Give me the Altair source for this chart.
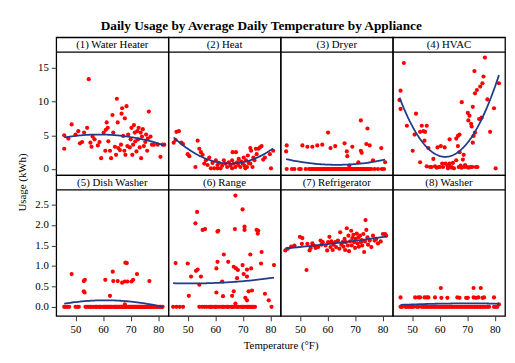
import altair as alt
import pandas as pd

TITLE = "Daily Usage by Average Daily Temperature by Appliance"
LABELS = ["(1) Water Heater", "(2) Heat", "(3) Dryer", "(4) HVAC",
          "(5) Dish Washer", "(6) Range", "(7) Refrigerator", "(8) Washer"]

water_heater = [(45.9,5.0),(45.9,3.0),(47.4,4.5),(48.6,6.6),(50.0,5.1),(51.0,5.6),(51.6,3.8),(52.4,4.0),
    (53.1,5.4),(54.2,6.1),(54.8,13.3),(55.4,3.9),(55.8,3.3),(56.2,4.8),(56.9,4.4),(58.1,3.5),(58.7,4.0),
    (59.3,1.6),(60.2,5.4),(60.8,2.7),(61.0,5.8),(61.3,6.9),(61.7,6.1),(61.9,4.1),(62.5,2.7),(62.9,1.6),
    (63.4,8.0),(63.7,5.4),(64.3,3.3),(64.7,2.1),(65.0,10.4),(65.3,6.9),(65.5,3.1),(66.1,2.8),(66.5,3.6),
    (66.7,8.2),(66.9,9.0),(67.3,4.9),(67.7,2.7),(67.9,7.5),(68.1,2.1),(68.5,9.3),(68.8,3.4),(69.1,5.1),
    (69.7,3.2),(70.0,4.4),(70.3,6.1),(70.6,2.1),(70.9,3.6),(71.2,6.5),(71.5,5.4),(71.7,4.1),(72.1,2.6),
    (72.4,5.6),(72.7,4.4),(72.9,6.1),(73.3,3.2),(73.6,5.4),(73.8,1.6),(74.1,4.8),(74.4,5.9),(74.8,3.4),
    (75.3,4.0),(75.6,5.1),(76.0,2.7),(76.2,4.5),(76.6,8.5),(77.2,4.8),(77.7,3.6),(78.4,3.6),(79.8,3.6),
    (80.8,1.8),(81.6,3.6),(82.2,3.6)]

heat = [(44.9,3.9),(45.6,4.3),(45.9,5.5),(46.8,5.6),(47.7,3.9),(48.3,3.7),(50.0,2.2),(50.6,1.9),(52.8,0.3),
    (53.6,4.2),(54.2,3.0),(54.8,2.5),(55.4,2.1),(56.0,0.8),(56.6,1.3),(57.2,0.6),(57.8,1.7),(58.4,0.1),
    (59.0,0.9),(59.6,0.1),(60.2,1.3),(60.8,0.6),(60.8,0.1),(61.3,0.9),(61.9,0.1),(62.5,0.5),(63.1,1.3),
    (63.7,0.8),(64.3,0.3),(64.9,1.0),(65.5,0.5),(66.1,1.3),(66.1,0.1),(66.3,2.5),(66.7,0.8),(67.3,0.3),
    (67.5,2.5),(67.9,1.0),(68.3,0.6),(68.5,1.5),(69.1,0.3),(69.4,1.1),(69.9,0.8),(70.3,1.7),(70.6,0.5),
    (70.9,0.1),(71.1,1.3),(71.5,0.3),(71.8,2.0),(72.1,0.9),(72.7,3.1),(72.7,0.8),(73.0,2.7),(73.5,0.3),
    (73.8,1.7),(74.2,1.3),(74.7,3.0),(75.0,2.2),(75.6,3.0),(76.2,3.2),(76.8,3.4),(77.4,1.4),(78.0,1.7),
    (79.8,2.2),(80.2,0.1),(81.0,2.7)]

dryer_nonzero = [(45.0,2.6),(45.2,3.5),(50.9,3.5),(52.7,3.3),(54.5,3.3),(56.3,3.5),(58.1,3.6),(60.2,5.4),
    (61.1,3.1),(62.8,3.4),(66.2,3.8),(67.0,2.6),(67.2,1.9),(67.9,0.5),(69.0,3.3),(71.2,1.0),(72.1,7.2),
    (72.1,2.7),(72.4,2.4),(74.1,3.7),(74.5,6.0),(75.3,3.5),(76.5,1.3),(79.5,3.1),(80.9,1.0)]
dryer_zero_temps = [45.2,47.1,48.0,49.7,50.3,52.1,53.3,53.9,54.5,55.1,55.7,56.3,56.9,57.5,58.1,58.7,
    59.3,59.9,60.5,61.1,61.6,62.2,62.8,63.4,64.0,64.6,65.2,65.8,66.4,67.0,67.6,68.2,68.8,69.4,70.0,70.6,
    71.2,71.8,72.4,73.0,73.6,74.1,74.7,75.3,75.9,77.1,78.3,79.7,80.5,
    58.4,59.0,60.0,60.8,61.9,62.5,63.1,63.7,64.3,64.9,65.5,66.1,66.7,67.3,67.9,68.5,69.1,69.7,70.3,
    70.9,71.5,72.1,72.7,73.3]

hvac = [(45.4,10.2),(45.8,11.6),(45.8,8.9),(47.0,15.7),(48.1,6.4),(50.2,2.7),(50.9,5.1),(51.4,8.2),
    (52.9,5.5),(52.9,1.0),(53.5,6.4),(54.1,5.6),(54.5,4.2),(54.7,5.5),(55.3,6.4),(55.3,0.4),(55.9,3.1),
    (56.5,0.3),(57.0,0.3),(57.7,1.5),(58.3,0.4),(58.9,0.2),(59.2,3.2),(59.7,0.3),(60.0,0.3),
    (60.4,3.4),(60.9,0.8),(61.2,0.3),(61.8,3.2),(62.1,0.8),(62.8,0.5),(63.0,0.1),(63.3,0.3),
    (63.6,4.4),(63.6,0.8),(64.2,0.3),(64.5,0.2),(64.8,0.9),(65.2,0.1),(66.0,1.3),(66.0,4.5),
    (66.6,4.9),(66.6,3.4),(66.9,0.3),(67.2,5.1),(67.2,2.5),(67.6,0.5),(67.9,0.2),(68.0,9.9),(68.4,1.4),
    (68.7,2.1),(68.9,0.3),(69.2,0.6),(69.9,0.3),(70.2,8.3),(70.4,7.2),(70.5,0.2),(70.8,7.9),
    (71.1,0.3),(71.4,6.7),(71.6,6.3),(71.8,0.3),(72.0,9.2),(72.0,3.9),(72.3,4.9),(72.6,14.5),(72.8,11.2),
    (72.8,5.4),(73.1,0.3),(73.5,11.7),(73.7,0.3),(74.3,7.4),(74.7,12.2),(75.2,7.6),(75.5,12.7),
    (75.9,13.7),(76.4,16.5),(77.3,10.3),(78.3,5.5),(79.7,9.0),(80.3,0.1),(81.5,12.7)]

dish_nonzero = [(48.6,0.80),(53.0,0.63),(53.4,0.66),(53.0,0.38),(53.3,0.35),(60.8,0.66),(62.5,0.27),
    (63.5,0.86),(63.7,0.63),(65.3,0.63),(66.9,0.59),(68.1,1.08),(68.6,1.07),(67.9,0.62),(68.8,0.62),
    (70.3,0.62),(70.9,0.66),(72.3,0.80),(76.8,0.63),(67.9,0.06)]
dish_zero_temps = [45.9,46.5,47.1,47.7,50.0,50.6,51.2,53.6,54.2,54.8,55.4,56.6,57.2,57.8,58.4,59.0,59.6,
    60.2,60.8,61.3,61.9,62.5,63.1,63.7,64.3,64.9,65.5,66.1,66.7,67.3,67.9,68.5,69.1,69.7,70.3,70.9,71.5,
    72.1,72.7,73.3,73.8,74.4,75.0,75.6,76.2,76.8,77.4,78.0,78.6,79.2,79.8,80.4,81.0,81.6,
    55.9,57.5,58.9,60.5,61.6,62.2,62.8,64.0,64.6,65.2,65.8,66.4,67.0,67.6,68.2,69.4,70.0,70.6,71.2,
    71.8,72.4,73.0,73.6,74.1,74.7,75.3,75.9,77.1,78.3,79.5,80.7]

range_nonzero = [(67.3,2.72),(69.9,2.38),(53.4,2.32),(52.8,2.04),(55.4,1.88),(56.3,1.90),(60.8,1.84),
    (61.1,1.86),(67.1,1.90),(70.6,1.96),(70.6,1.88),(75.0,1.88),(75.6,1.86),(75.4,1.79),(45.6,1.07),
    (50.0,1.06),(53.6,0.91),(53.0,0.88),(51.2,0.74),(54.8,0.74),(60.8,1.10),(60.4,0.94),(63.1,1.28),
    (64.7,1.10),(66.7,0.98),(67.5,0.94),(68.2,0.90),(67.9,0.70),(69.9,1.02),(70.3,0.80),(71.5,0.74),
    (71.5,0.91),(73.0,0.94),(72.7,1.28),(76.8,1.34),(76.6,1.06),(81.3,1.02),(78.0,0.32),(62.5,0.62),
    (54.2,0.54),(50.4,0.27),(60.4,0.35),(62.8,0.26),(66.1,0.27),(66.7,0.38),(70.9,0.22),(71.5,0.16),
    (72.1,0.38),(73.3,0.40),(79.4,0.16),(67.3,0.08)]
range_zero_temps = [44.7,45.9,47.1,48.3,54.2,55.2,56.0,56.8,57.8,58.7,59.6,60.4,61.3,62.3,
    63.1,64.0,64.9,65.9,66.7,67.5,68.5,69.4,70.3,71.1,72.1,73.0,73.8,74.4,80.4,
    58.2,60.0,62.7,64.5,66.3,68.0,69.9,71.6,72.5,73.4]

refrigerator = [(44.7,1.38),(45.6,1.42),(46.8,1.47),(48.0,1.50),(50.0,1.71),(50.9,1.68),(50.7,1.54),
    (52.4,0.90),(52.7,1.54),(53.5,1.38),(53.9,1.44),(54.5,1.55),(55.1,1.50),(55.7,1.44),(56.6,1.46),
    (57.5,1.62),(57.8,1.52),(58.3,1.58),(59.3,1.50),(59.9,1.38),(60.2,1.58),(60.7,1.71),(61.1,1.46),
    (61.4,1.60),(61.9,1.39),(62.2,1.52),(62.8,1.58),(63.1,1.46),(63.8,1.62),(64.3,1.42),(64.6,1.82),
    (65.0,1.52),(65.5,1.58),(65.8,1.47),(66.2,1.66),(66.4,1.39),(66.6,1.58),(67.0,1.92),(67.4,1.50),
    (67.6,1.74),(67.8,1.36),(68.2,1.60),(68.6,1.86),(68.8,1.50),(69.0,1.68),(69.4,1.76),(69.7,1.58),
    (70.0,1.44),(70.2,1.66),(70.6,1.79),(70.9,1.55),(71.2,1.70),(71.4,1.47),(71.8,1.74),(72.1,1.58),
    (72.4,1.63),(72.6,1.50),(73.0,1.78),(73.3,1.34),(73.6,1.60),(73.8,2.12),(74.1,1.88),(74.5,1.70),
    (74.7,1.52),(75.3,1.62),(75.9,1.46),(76.5,1.74),(77.1,1.62),(77.7,1.66),(78.3,1.55),(79.3,1.60),
    (80.1,1.78),(80.9,1.78),(81.3,1.74)]

washer_nonzero = [(45.8,0.23),(51.1,0.23),(52.3,0.23),(52.9,0.23),(54.5,0.23),(55.3,0.23),(55.9,0.23),
    (58.3,0.23),(60.4,0.46),(60.6,0.22),(62.8,0.22),(66.4,0.23),(67.2,0.22),(69.6,0.22),(70.2,0.22),
    (72.3,0.46),(72.3,0.23),(73.1,0.22),(74.0,0.23),(74.9,0.46),(75.5,0.22),(76.1,0.23),(79.7,0.23),
    (81.5,0.06)]
washer_zero_temps = [45.8,46.4,47.6,48.1,48.7,49.3,49.9,50.5,51.7,52.3,53.5,54.1,54.7,55.3,55.9,56.5,
    57.1,57.7,58.3,58.9,59.5,60.1,60.6,61.2,61.8,62.4,63.0,63.6,64.2,64.8,65.4,66.0,66.6,67.2,67.8,68.4,
    69.0,69.6,70.2,70.8,71.4,72.0,72.6,73.1,73.7,74.3,74.9,75.5,76.1,76.7,77.3,77.9,79.7,80.3,80.9]

X_TICKS = [50, 60, 70, 80]
Y_TICKS_TOP = [0, 5, 10, 15]
Y_TICKS_BOT = [0, 0.5, 1.0, 1.5, 2.0, 2.5]


def with_zeros(nonzero, zero_temps):
    return list(nonzero) + [(t, 0.0) for t in zero_temps]


series = [water_heater, heat, with_zeros(dryer_nonzero, dryer_zero_temps), hvac,
          with_zeros(dish_nonzero, dish_zero_temps), with_zeros(range_nonzero, range_zero_temps),
          refrigerator, with_zeros(washer_nonzero, washer_zero_temps)]

W = 114
STRIP = 15
SERIF = "Liberation Serif"
X_DOM = [43, 83.7]


def make_panel(i):
    top = i < 4
    H = 140 if top else 143
    ydom = [-0.9, 19.5] if top else [-0.22, 3.22]
    df = pd.DataFrame(series[i], columns=["temp", "usage"])
    xs = alt.Scale(domain=X_DOM, nice=False, zero=False)
    ys = alt.Scale(domain=ydom, nice=False, zero=False)
    if top:
        xaxis = None
    else:
        xkw = dict(values=X_TICKS, title=None)
        if i == 5:
            xkw = dict(values=X_TICKS, title="Temperature (\u00b0F)", titleX=W, titlePadding=5)
        xaxis = alt.Axis(**xkw)
    if i % 4 == 0:
        if top:
            yaxis = alt.Axis(values=Y_TICKS_TOP, format="d", title="Usage (kWh)", titleY=147,
                             titlePadding=10)
        else:
            yaxis = alt.Axis(values=Y_TICKS_BOT, format=".1f", title=None)
    else:
        yaxis = None
    base = alt.Chart(df)
    pts = base.mark_circle(size=18, color="#ff0000", opacity=1).encode(
        x=alt.X("temp:Q", scale=xs, axis=xaxis),
        y=alt.Y("usage:Q", scale=ys, axis=yaxis))
    fit = base.transform_regression("temp", "usage", method="poly", order=2).mark_line(
        color="#1f3c88", strokeWidth=1.8).encode(
        x=alt.X("temp:Q", scale=xs, axis=xaxis),
        y=alt.Y("usage:Q", scale=ys, axis=yaxis))
    lab = pd.DataFrame({"label": [LABELS[i]]})
    rule = alt.Chart(lab).mark_rule(color="black", strokeWidth=1.3).encode(
        y=alt.value(STRIP), x=alt.value(0), x2=alt.value(W))
    txt = alt.Chart(lab).mark_text(font=SERIF, fontSize=11, baseline="middle", align="center",
                                   color="black").encode(
        text="label:N", x=alt.value(W / 2), y=alt.value(STRIP / 2 + 0.5))
    return alt.layer(pts, fit, rule, txt).properties(width=W, height=H)


panels = [make_panel(i) for i in range(8)]

chart = alt.concat(*panels, columns=4, spacing=0, bounds="flush").properties(
    title=alt.TitleParams(text=TITLE, font=SERIF, fontSize=13.5, fontWeight="bold",
                          anchor="middle", offset=4, color="black"),
    padding={"left": 8, "top": 8, "right": 0, "bottom": 0},
).configure_view(
    stroke="black", strokeWidth=1.3
).configure_axis(
    labelFont=SERIF, labelFontSize=11, labelColor="black", titleFont=SERIF,
    titleFontSize=11, titleFontWeight="normal", titleColor="black",
    tickColor="#333", tickSize=5, labelPadding=3, domain=False, grid=False
)

chart.save("out.html", embed_options={"renderer": "svg", "actions": False})
